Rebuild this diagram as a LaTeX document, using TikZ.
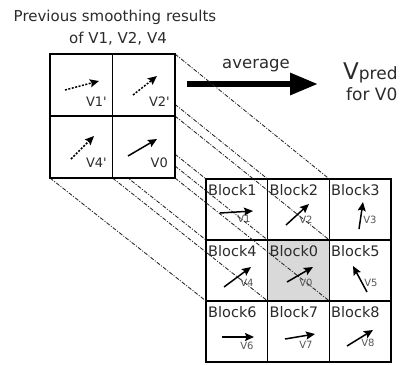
\documentclass[tikz,border=0pt]{standalone}
\usepackage{fontspec}
\setmainfont{DejaVu Sans}
\usetikzlibrary{arrows.meta}
\pgfdeclarelayer{back}
\pgfdeclarelayer{mid}
\pgfsetlayers{back,mid,main}
\definecolor{ink}{HTML}{2B2B2B}
\definecolor{cellgray}{HTML}{D9D9D9}
\definecolor{tagcol}{HTML}{555555}
\newcommand{\fsz}[1]{\fontsize{#1pt}{#1pt}\selectfont}
\tikzset{
  scell/.style={draw=black, line width=1.5pt, fill=white, minimum width=62.5pt,
    minimum height=62pt, inner sep=0pt, outer sep=0pt},
  bcell/.style={draw=black, line width=1.5pt, minimum width=61.67pt,
    minimum height=61pt, inner sep=0pt, outer sep=0pt},
  proj/.style={draw=black!85, line width=0.85pt,
    dash pattern=on 4pt off 1.5pt on 1pt off 1.5pt},
  vec/.style={draw=black, line width=1.5pt,
    -{Stealth[length=9pt,width=8pt,inset=1.5pt]}},
  prevvec/.style={vec, dash pattern=on 2pt off 1.5pt},
  blk/.style={anchor=base west, inner sep=0pt, text=ink, font=\fsz{14.5}},
  slabel/.style={anchor=base east, inner sep=0pt, text=ink, font=\fsz{13}},
  tag/.style={anchor=center, inner sep=0pt, text=tagcol, font=\fsz{10}},
  caption/.style={anchor=base, inner sep=0pt, text=ink, font=\fsz{15}},
}
\begin{document}
\begin{tikzpicture}[x=1pt, y=-1pt]
\useasboundingbox (0,0) rectangle (404,364);

% 3x3 block grid with the current block shaded
\begin{pgfonlayer}{back}
  \node[bcell] (b1) at (236.83,209.5) {};
  \node[bcell] (b2) at (298.5,209.5) {};
  \node[bcell] (b3) at (360.17,209.5) {};
  \node[bcell] (b4) at (236.83,270.5) {};
  \node[bcell, fill=cellgray] (b0) at (298.5,270.5) {};
  \node[bcell] (b5) at (360.17,270.5) {};
  \node[bcell] (b6) at (236.83,331.5) {};
  \node[bcell] (b7) at (298.5,331.5) {};
  \node[bcell] (b8) at (360.17,331.5) {};
  % averaging arrow
  \coordinate (avgL) at (187,84);
  \coordinate (avgR) at (318,84);
  \draw[line width=6pt, -{Triangle[length=28pt,width=21pt]}] (avgL) -- (avgR);
\end{pgfonlayer}

% 2x2 grid of previous results
\node[scell] (s1) at (81.25,85) {};
\node[scell] (s2) at (143.75,85) {};
\node[scell] (s4) at (81.25,147) {};
\node[scell] (s0) at (143.75,147) {};

% projection lines from the small grid onto blocks 1, 2, 4, 0
\begin{pgfonlayer}{mid}
  \draw[proj] (s1.north west) -- (b1.north west);
  \draw[proj] (s1.north east) -- (b1.north east);
  \draw[proj] (s2.north east) -- (b2.north east);
  \draw[proj] (s1.south west) -- (b1.south west);
  \draw[proj] (s1.south east) -- (b1.south east);
  \draw[proj] (s2.south east) -- (b2.south east);
  \draw[proj] (s4.south west) -- (b4.south west);
  \draw[proj] (s4.south east) -- (b4.south east);
  \draw[proj] (s0.south east) -- (b0.south east);
\end{pgfonlayer}

% captions
\node[caption] (title1) at (115,21) {Previous smoothing results};
\node[caption] (title2) at (118,43) {of V1, V2, V4};
\node[caption, font=\fsz{16.5}] (avg) at (256,68) {average};
\node[anchor=base west, inner sep=0pt, text=ink] (vpred) at (343,79)
  {\fsz{23}V\fsz{17}pred};
\node[anchor=base west, inner sep=0pt, text=ink, font=\fsz{17}] (forv0) at (346,100) {for V0};

% previous motion vectors
\draw[prevvec] (65,90) -- (99,81);
\draw[prevvec] (133,95) -- (157,76);
\draw[prevvec] (71,159) -- (94,136);
\draw[vec] (128,156) -- (157,139);
\node[slabel] at (107,106) {V1\textquotesingle};
\node[slabel] at (170,106) {V2\textquotesingle};
\node[slabel] at (107,167) {V4\textquotesingle};
\node[slabel] at (168,167) {V0};

% block names
\node[blk] at (208,195) {Block1};
\node[blk] at (269.5,195) {Block2};
\node[blk] at (331,195) {Block3};
\node[blk] at (208,256) {Block4};
\node[blk] at (269.5,256) {Block0};
\node[blk] at (331,256) {Block5};
\node[blk] at (208,317) {Block6};
\node[blk] at (269.5,317) {Block7};
\node[blk] at (331,317) {Block8};

% block motion vectors
\node[tag] at (244,219) {V1};
\node[tag] at (306,220) {V2};
\node[tag] at (370,220) {V3};
\node[tag] at (247,283) {V4};
\node[tag] at (306,283) {V0};
\node[tag] at (371,283) {V5};
\node[tag] at (247,346) {V6};
\node[tag] at (306,345) {V7};
\node[tag] at (368,343) {V8};
\draw[vec] (220,213) -- (253,211);
\draw[vec] (286,225) -- (309,204);
\draw[vec] (359,229) -- (363,202);
\draw[vec] (224,287) -- (251,267);
\draw[vec] (287,282) -- (313,267);
\draw[vec] (367,292) -- (353,266);
\draw[vec] (222,337) -- (254,337);
\draw[vec] (285,339) -- (315,334);
\draw[vec] (347,346) -- (373,330);
\end{tikzpicture}
\end{document}
